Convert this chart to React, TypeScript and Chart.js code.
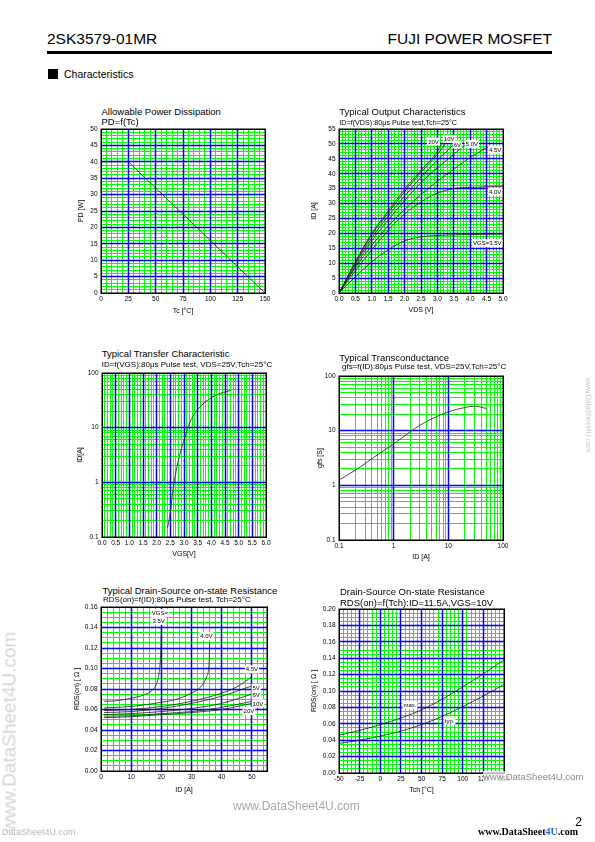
import React, { useEffect, useRef } from 'react';
import { Chart, registerables } from 'chart.js';

Chart.register(...registerables);

const FONT = '"Liberation Sans", Arial, Helvetica, sans-serif';
const GREEN = '#00ff00';
const BLUE = '#0000ff';
const CURVE = '#1e1e1e';

// ---------- 1. Allowable Power Dissipation ----------
const pdTc = [0, 25, 150];
const pdW = [40, 40, 0];
const pdXTicks = [0, 25, 50, 75, 100, 125, 150];
const pdYTicks = [0, 5, 10, 15, 20, 25, 30, 35, 40, 45, 50];

// ---------- 2. Typical Output Characteristics ----------
const outXTicks = [0, 0.5, 1, 1.5, 2, 2.5, 3, 3.5, 4, 4.5, 5];
const outYTicks = [0, 5, 10, 15, 20, 25, 30, 35, 40, 45, 50, 55];
const outVds35 = [0, 0.5, 1.0, 1.5, 2.0, 2.5, 3.0, 4.0, 5.0];
const outId35 = [0, 5.5, 10.5, 14.5, 17.5, 18.8, 19.3, 19.6, 19.8];
const outVds40 = [0, 0.5, 1, 1.5, 2, 2.5, 3, 3.5, 4, 5];
const outId40 = [0, 7.5, 14.5, 21, 26.5, 30.5, 33.5, 35, 35.4, 35.8];
const outVds45 = [0, 0.5, 1, 1.5, 2, 2.5, 3, 3.5, 4, 4.6];
const outId45 = [0, 8.5, 16, 22.5, 28, 33, 37.5, 41.5, 45.5, 49.3];
const outVds50 = [0, 0.5, 1, 1.5, 2, 2.5, 3, 3.5, 3.85];
const outId50 = [0, 9, 17.5, 24.5, 31, 37, 42, 46.5, 49.7];
const outVds6 = [0, 0.5, 1, 1.5, 2, 2.5, 3, 3.48];
const outId6 = [0, 9.8, 18.5, 25.8, 32.5, 38.8, 44.5, 49.7];
const outVds10 = [0, 0.5, 1, 1.5, 2, 2.5, 3, 3.3];
const outId10 = [0, 10.2, 19.5, 26.8, 34, 40.5, 46.5, 51];
const outVds20 = [0, 0.5, 1, 1.5, 2, 2.5, 3, 3.13];
const outId20 = [0, 10.5, 20, 27.5, 34.8, 41.2, 47.5, 50.2];
const outLabelText = ['20V', '10V', '6V', '5.0V', '4.5V', '4.0V', 'VGS=3.5V'];
const outLabelX = [2.88, 3.36, 3.61, 4.05, 4.76, 4.76, 4.52];
const outLabelY = [50.8, 51.7, 49.8, 50.0, 48.0, 34.0, 16.7];

// ---------- 3. Typical Transfer Characteristic ----------
const trXTicks = [0, 0.5, 1, 1.5, 2, 2.5, 3, 3.5, 4, 4.5, 5, 5.5, 6];
const trYTicks = [0.1, 1, 10, 100];
const trVgs = [2.4, 2.45, 2.5, 2.6, 2.75, 2.9, 3.05, 3.2, 3.45, 3.8, 4.2, 4.7];
const trId = [0.15, 0.2, 0.28, 0.75, 2, 4, 7, 12, 20, 30, 40, 48];

// ---------- 4. Typical Transconductance ----------
const gfsXTicks = [0.1, 1, 10, 100];
const gfsYTicks = [0.1, 1, 10, 100];
const gfsId = [0.1, 0.2, 0.3, 0.5, 1, 2, 3, 5, 10, 20, 30, 50];
const gfsS = [1.25, 1.9, 2.5, 3.6, 5.7, 9.5, 12.5, 16.5, 22, 26.5, 28, 25.5];

// ---------- 5. Typical Drain-Source on-state Resistance ----------
const rdXTicks = [0, 10, 20, 30, 40, 50];
const rdYTicks = [0, 0.02, 0.04, 0.06, 0.08, 0.1, 0.12, 0.14, 0.16];
const rdId35 = [1, 5, 10, 14, 17, 18.5, 19.3, 19.7, 19.9, 20];
const rd35 = [0.068, 0.0685, 0.071, 0.074, 0.079, 0.086, 0.097, 0.11, 0.125, 0.14];
const rdId40 = [1, 10, 20, 25, 30, 33, 35, 35.8, 36];
const rd40 = [0.0615, 0.063, 0.067, 0.07, 0.076, 0.082, 0.092, 0.105, 0.125];
const rdId45 = [1, 10, 20, 30, 40, 45, 50];
const rd45 = [0.059, 0.06, 0.063, 0.068, 0.076, 0.082, 0.092];
const rdId5 = [1, 10, 20, 30, 40, 50];
const rd5 = [0.057, 0.058, 0.061, 0.066, 0.073, 0.083];
const rdId6 = [1, 10, 20, 30, 40, 50];
const rd6 = [0.055, 0.056, 0.058, 0.061, 0.066, 0.075];
const rdId10 = [1, 10, 20, 30, 40, 50];
const rd10 = [0.0535, 0.054, 0.056, 0.058, 0.062, 0.068];
const rdId20 = [1, 10, 20, 30, 40, 50];
const rd20 = [0.052, 0.053, 0.055, 0.057, 0.06, 0.066];
const rdLabelText = ['VGS=', '3.5V', '4.0V', '4.5V', '5V', '6V', '10V', '20V'];
const rdLabelX = [19.5, 19.1, 34.9, 50, 51.4, 51.4, 52, 49];
const rdLabelY = [0.154, 0.1466, 0.1317, 0.0992, 0.0813, 0.0741, 0.066, 0.0585];

// ---------- 6. Drain-Source On-state Resistance vs Tch ----------
const tcXTicks = [-50, -25, 0, 25, 50, 75, 100, 125, 150];
const tcYTicks = [0, 0.02, 0.04, 0.06, 0.08, 0.1, 0.12, 0.14, 0.16, 0.18, 0.2];
const tch = [-50, -25, 0, 25, 50, 75, 100, 125, 150];
const rdsTyp = [0.036, 0.040, 0.045, 0.051, 0.059, 0.069, 0.081, 0.094, 0.108];
const rdsMax = [0.046, 0.052, 0.059, 0.067, 0.077, 0.090, 0.105, 0.121, 0.138];
const tcLabelText = ['max.', 'typ.'];
const tcLabelX = [36, 84];
const tcLabelY = [0.083, 0.064];

// ---------- helpers ----------
const PADL = 40, PADT = 10, PADR = 14, PADB = 30;

type AxisSpec = {
  type: 'linear' | 'logarithmic';
  min: number;
  max: number;
  ticks: number[];
  minorStep?: number;
  fmt: (v: number) => string;
  title: string;
};
type Spec = {
  plot: { l: number; t: number; r: number; b: number };
  x: AxisSpec;
  y: AxisSpec;
  xTitleCy: number;
  yTitleCx: number;
  series: { xs: number[]; ys: number[] }[];
  labels: { t: string[]; x: number[]; y: number[] };
  tension?: boolean;
};

const stepVals = (min: number, max: number, step: number) => {
  const n = Math.floor((max - min) / step + 1e-6);
  const out: number[] = [];
  for (let i = 0; i <= n; i++) out.push(+(min + i * step).toFixed(6));
  return out.filter((v) => v <= max + 1e-9);
};
const logMinors = (min: number, max: number) => {
  const out: number[] = [];
  for (let d = min; d < max * 0.999; d *= 10) for (let k = 2; k <= 9; k++) out.push(+(d * k).toPrecision(6));
  return out;
};
const minorsOf = (a: AxisSpec) => (a.type === 'logarithmic' ? logMinors(a.min, a.max) : stepVals(a.min, a.max, a.minorStep || 1));
const majorsOf = (a: AxisSpec) => a.ticks.filter((v) => v > a.min && v < a.max);

const f0 = (v: number) => String(Math.round(v));
const f1 = (v: number) => v.toFixed(1);
const f2 = (v: number) => v.toFixed(2);
const fLog = (v: number) => (v < 1 ? String(+v.toPrecision(3)) : String(Math.round(v)));

function makeGridPlugin(spec: Spec) {
  return {
    id: 'paperGrid',
    beforeDatasetsDraw(chart: any) {
      const { ctx, chartArea: a, scales } = chart;
      const xs = scales.x, ys = scales.y;
      const vl = (off: number) => (v: number) => {
        const p = Math.floor(xs.getPixelForValue(v)) + off;
        ctx.moveTo(p, a.top);
        ctx.lineTo(p, a.bottom);
      };
      const hl = (off: number) => (v: number) => {
        const p = Math.floor(ys.getPixelForValue(v)) + off;
        ctx.moveTo(a.left, p);
        ctx.lineTo(a.right, p);
      };
      ctx.save();
      ctx.lineWidth = 1;
      ctx.strokeStyle = GREEN;
      ctx.beginPath();
      minorsOf(spec.x).forEach(vl(0.5));
      minorsOf(spec.y).forEach(hl(0.5));
      ctx.stroke();
      ctx.lineWidth = 1.5;
      ctx.strokeStyle = BLUE;
      ctx.beginPath();
      majorsOf(spec.x).forEach(vl(0.5));
      majorsOf(spec.y).forEach(hl(0.5));
      ctx.stroke();
      ctx.lineWidth = 1.5;
      ctx.strokeStyle = '#000';
      ctx.strokeRect(Math.floor(a.left) + 0.25, Math.floor(a.top) + 0.25, Math.round(a.right - a.left), Math.round(a.bottom - a.top));
      ctx.restore();
    },
  };
}

function makeLabelPlugin(spec: Spec) {
  return {
    id: 'curveLabels',
    afterDatasetsDraw(chart: any) {
      const { ctx, scales } = chart;
      ctx.save();
      ctx.font = `6px ${FONT}`;
      ctx.textBaseline = 'middle';
      ctx.textAlign = 'center';
      spec.labels.t.forEach((t, i) => {
        const px = scales.x.getPixelForValue(spec.labels.x[i]);
        const py = scales.y.getPixelForValue(spec.labels.y[i]);
        const w = ctx.measureText(t).width;
        ctx.fillStyle = '#fff';
        ctx.fillRect(px - w / 2 - 1, py - 4, w + 2, 8);
        ctx.fillStyle = '#000';
        ctx.fillText(t, px, py + 0.5);
      });
      ctx.restore();
    },
  };
}

function axisCfg(a: AxisSpec, pos: 'left' | 'bottom', titlePad: number) {
  return {
    type: a.type,
    position: pos,
    min: a.min,
    max: a.max,
    grid: { display: false, drawTicks: false },
    border: { display: false },
    afterBuildTicks: (s: any) => {
      s.ticks = a.ticks.map((v) => ({ value: v }));
    },
    afterFit: (s: any) => {
      if (pos === 'left') s.width = PADL;
      else s.height = PADB;
    },
    ticks: {
      autoSkip: false,
      maxRotation: 0,
      minRotation: 0,
      padding: pos === 'left' ? 3.5 : 2.5,
      color: '#000',
      font: { family: FONT, size: 6.5 },
      callback: (v: any) => a.fmt(Number(v)),
    },
    title: {
      display: true,
      text: a.title,
      color: '#000',
      font: { family: FONT, size: 7 },
      padding: pos === 'left' ? { top: titlePad, bottom: 0 } : { top: 0, bottom: titlePad },
    },
  };
}

function PaperChart({ spec }: { spec: Spec }) {
  const ref = useRef<HTMLCanvasElement>(null);
  const { l, t, r, b } = spec.plot;
  const W = r - l + PADL + PADR;
  const H = b - t + PADT + PADB;
  useEffect(() => {
    const canvasLeft = l - PADL;
    const canvasBottom = b + PADB;
    const yPad = spec.yTitleCx - canvasLeft - 4.2;
    const xPad = canvasBottom - spec.xTitleCy - 4.2;
    const chart = new Chart(ref.current as HTMLCanvasElement, {
      type: 'line',
      data: {
        datasets: spec.series.map((s) => ({
          data: s.xs.map((x, i) => ({ x, y: s.ys[i] })),
          borderColor: CURVE,
          borderWidth: 0.8,
          pointRadius: 0,
          fill: false,
          cubicInterpolationMode: spec.tension === false ? 'default' : 'monotone',
          tension: spec.tension === false ? 0 : 0.4,
        })),
      },
      options: {
        animation: false,
        responsive: false,
        devicePixelRatio: 1,
        events: [],
        layout: { padding: { left: 0, top: PADT, right: PADR, bottom: 0 } },
        plugins: { legend: { display: false }, title: { display: false }, tooltip: { enabled: false } },
        scales: {
          x: axisCfg(spec.x, 'bottom', xPad),
          y: axisCfg(spec.y, 'left', yPad),
        },
      } as any,
      plugins: [makeGridPlugin(spec), makeLabelPlugin(spec)],
    } as any);
    return () => chart.destroy();
  }, []);
  return (
    <canvas
      ref={ref}
      width={W}
      height={H}
      style={{ position: 'absolute', left: l - PADL, top: t - PADT, width: W, height: H }}
    />
  );
}

function Txt(props: { x: number; cy: number; size: number; children: any; style?: any; right?: boolean }) {
  const { x, cy, size, children, style, right } = props;
  const top = cy - 0.589 * size;
  const base: any = {
    position: 'absolute',
    top,
    fontFamily: FONT,
    fontSize: size,
    lineHeight: 1.2,
    whiteSpace: 'nowrap',
    color: '#000',
  };
  if (right) base.right = 595 - x;
  else base.left = x;
  return <div style={{ ...base, ...style }}>{children}</div>;
}

const specs: Spec[] = [
  {
    plot: { l: 101, t: 129, r: 265, b: 293 },
    x: { type: 'linear', min: 0, max: 150, ticks: pdXTicks, minorStep: 5, fmt: f0, title: 'Tc [°C]' },
    y: { type: 'linear', min: 0, max: 50, ticks: pdYTicks, minorStep: 1, fmt: f0, title: 'PD [W]' },
    xTitleCy: 311,
    yTitleCx: 81,
    series: [{ xs: pdTc, ys: pdW }],
    labels: { t: [], x: [], y: [] },
    tension: false,
  },
  {
    plot: { l: 339, t: 129, r: 503, b: 293 },
    x: { type: 'linear', min: 0, max: 5, ticks: outXTicks, minorStep: 0.1, fmt: f1, title: 'VDS [V]' },
    y: { type: 'linear', min: 0, max: 55, ticks: outYTicks, minorStep: 1, fmt: f0, title: 'ID [A]' },
    xTitleCy: 310,
    yTitleCx: 314,
    series: [
      { xs: outVds35, ys: outId35 },
      { xs: outVds40, ys: outId40 },
      { xs: outVds45, ys: outId45 },
      { xs: outVds50, ys: outId50 },
      { xs: outVds6, ys: outId6 },
      { xs: outVds10, ys: outId10 },
      { xs: outVds20, ys: outId20 },
    ],
    labels: { t: outLabelText, x: outLabelX, y: outLabelY },
  },
  {
    plot: { l: 102, t: 373, r: 266, b: 537 },
    x: { type: 'linear', min: 0, max: 6, ticks: trXTicks, minorStep: 0.1, fmt: f1, title: 'VGS[V]' },
    y: { type: 'logarithmic', min: 0.1, max: 100, ticks: trYTicks, fmt: fLog, title: 'ID[A]' },
    xTitleCy: 554,
    yTitleCx: 80,
    series: [{ xs: trVgs, ys: trId }],
    labels: { t: [], x: [], y: [] },
  },
  {
    plot: { l: 339, t: 376, r: 503, b: 540 },
    x: { type: 'logarithmic', min: 0.1, max: 100, ticks: gfsXTicks, fmt: fLog, title: 'ID [A]' },
    y: { type: 'logarithmic', min: 0.1, max: 100, ticks: gfsYTicks, fmt: fLog, title: 'gfs [S]' },
    xTitleCy: 557,
    yTitleCx: 320.5,
    series: [{ xs: gfsId, ys: gfsS }],
    labels: { t: [], x: [], y: [] },
  },
  {
    plot: { l: 101, t: 607, r: 267, b: 771 },
    x: { type: 'linear', min: 0, max: 55, ticks: rdXTicks, minorStep: 2, fmt: f0, title: 'ID [A]' },
    y: { type: 'linear', min: 0, max: 0.16, ticks: rdYTicks, minorStep: 0.005, fmt: f2, title: 'RDS(on) [ Ω ]' },
    xTitleCy: 790,
    yTitleCx: 77.5,
    series: [
      { xs: rdId35, ys: rd35 },
      { xs: rdId40, ys: rd40 },
      { xs: rdId45, ys: rd45 },
      { xs: rdId5, ys: rd5 },
      { xs: rdId6, ys: rd6 },
      { xs: rdId10, ys: rd10 },
      { xs: rdId20, ys: rd20 },
    ],
    labels: { t: rdLabelText, x: rdLabelX, y: rdLabelY },
  },
  {
    plot: { l: 339, t: 609, r: 504, b: 773 },
    x: { type: 'linear', min: -50, max: 150, ticks: tcXTicks, minorStep: 5, fmt: f0, title: 'Tch [°C]' },
    y: { type: 'linear', min: 0, max: 0.2, ticks: tcYTicks, minorStep: 0.005, fmt: f2, title: 'RDS(on) [ Ω ]' },
    xTitleCy: 790.5,
    yTitleCx: 314,
    series: [
      { xs: tch, ys: rdsTyp },
      { xs: tch, ys: rdsMax },
    ],
    labels: { t: tcLabelText, x: tcLabelX, y: tcLabelY },
  },
];

export default function App() {
  const T = 9.5;
  return (
    <div
      style={{
        position: 'absolute',
        left: 0,
        top: 0,
        width: 595,
        height: 842,
        background: '#fff',
        overflow: 'hidden',
      }}
    >
      {/* header */}
      <Txt x={47} cy={39.5} size={15.5}>2SK3579-01MR</Txt>
      <Txt x={552} cy={39.5} size={15.5} right>FUJI POWER MOSFET</Txt>
      <div style={{ position: 'absolute', left: 47, top: 51, width: 505, height: 2.5, background: '#000' }} />
      <div style={{ position: 'absolute', left: 48, top: 69, width: 10, height: 10, background: '#000' }} />
      <Txt x={64} cy={74} size={10.5}>Characteristics</Txt>

      {specs.map((s, i) => (
        <PaperChart key={i} spec={s} />
      ))}

      {/* chart titles */}
      <Txt x={101.5} cy={111.8} size={T}>Allowable Power Dissipation</Txt>
      <Txt x={101.5} cy={121.8} size={T}>PD=f(Tc)</Txt>

      <Txt x={339.3} cy={112} size={T}>Typical Output Characteristics</Txt>
      <Txt x={339.3} cy={123.5} size={7.2}>ID=f(VDS):80μs Pulse test,Tch=25°C</Txt>

      <Txt x={101.7} cy={354} size={T}>Typical Transfer Characteristic</Txt>
      <Txt x={101.7} cy={364.5} size={8}>ID=f(VGS):80μs Pulse test, VDS=25V,Tch=25°C</Txt>

      <Txt x={339.3} cy={357.5} size={T}>Typical Transconductance</Txt>
      <Txt x={342} cy={367} size={8}>gfs=f(ID):80μs Pulse test, VDS=25V,Tch=25°C</Txt>

      <Txt x={102.5} cy={590.5} size={T}>Typical Drain-Source on-state Resistance</Txt>
      <Txt x={103} cy={599.5} size={8}>RDS(on)=f(ID):80μs Pulse test, Tch=25°C</Txt>

      <Txt x={340} cy={591.5} size={T}>Drain-Source On-state Resistance</Txt>
      <Txt x={340} cy={602.5} size={T}>RDS(on)=f(Tch):ID=11.5A,VGS=10V</Txt>

      {/* watermarks / footer */}
      <Txt x={483} cy={777} size={9.5} style={{ color: '#8a8a8a', background: 'rgba(255,255,255,0.7)' }}>
        www.DataSheet4U.com
      </Txt>
      <Txt x={233} cy={806} size={12} style={{ color: '#a8a8a8' }}>www.DataSheet4U.com</Txt>
      <Txt x={582} cy={822} size={12} right>2</Txt>
      <Txt
        x={578}
        cy={832}
        size={10}
        right
        style={{ fontFamily: '"Liberation Serif", "DejaVu Serif", serif', fontWeight: 'bold' }}
      >
        www.DataSheet<span style={{ color: '#2a6ad8' }}>4U</span>.com
      </Txt>
      <Txt x={2} cy={832} size={9} style={{ color: '#b8b8b8' }}>DataSheet4U.com</Txt>
      <div
        style={{
          position: 'absolute',
          left: 9,
          top: 732,
          transform: 'translate(-50%, -50%) rotate(-90deg)',
          fontFamily: FONT,
          fontSize: 19,
          lineHeight: 1,
          color: '#d4d4d4',
          whiteSpace: 'nowrap',
        }}
      >
        www.DataSheet4U.com
      </div>
      <div
        style={{
          position: 'absolute',
          left: 588,
          top: 415,
          transform: 'translate(-50%, -50%) rotate(90deg)',
          fontFamily: FONT,
          fontSize: 7,
          lineHeight: 1,
          color: '#c8c8c8',
          whiteSpace: 'nowrap',
        }}
      >
        www.DataSheet4U.com
      </div>
    </div>
  );
}
